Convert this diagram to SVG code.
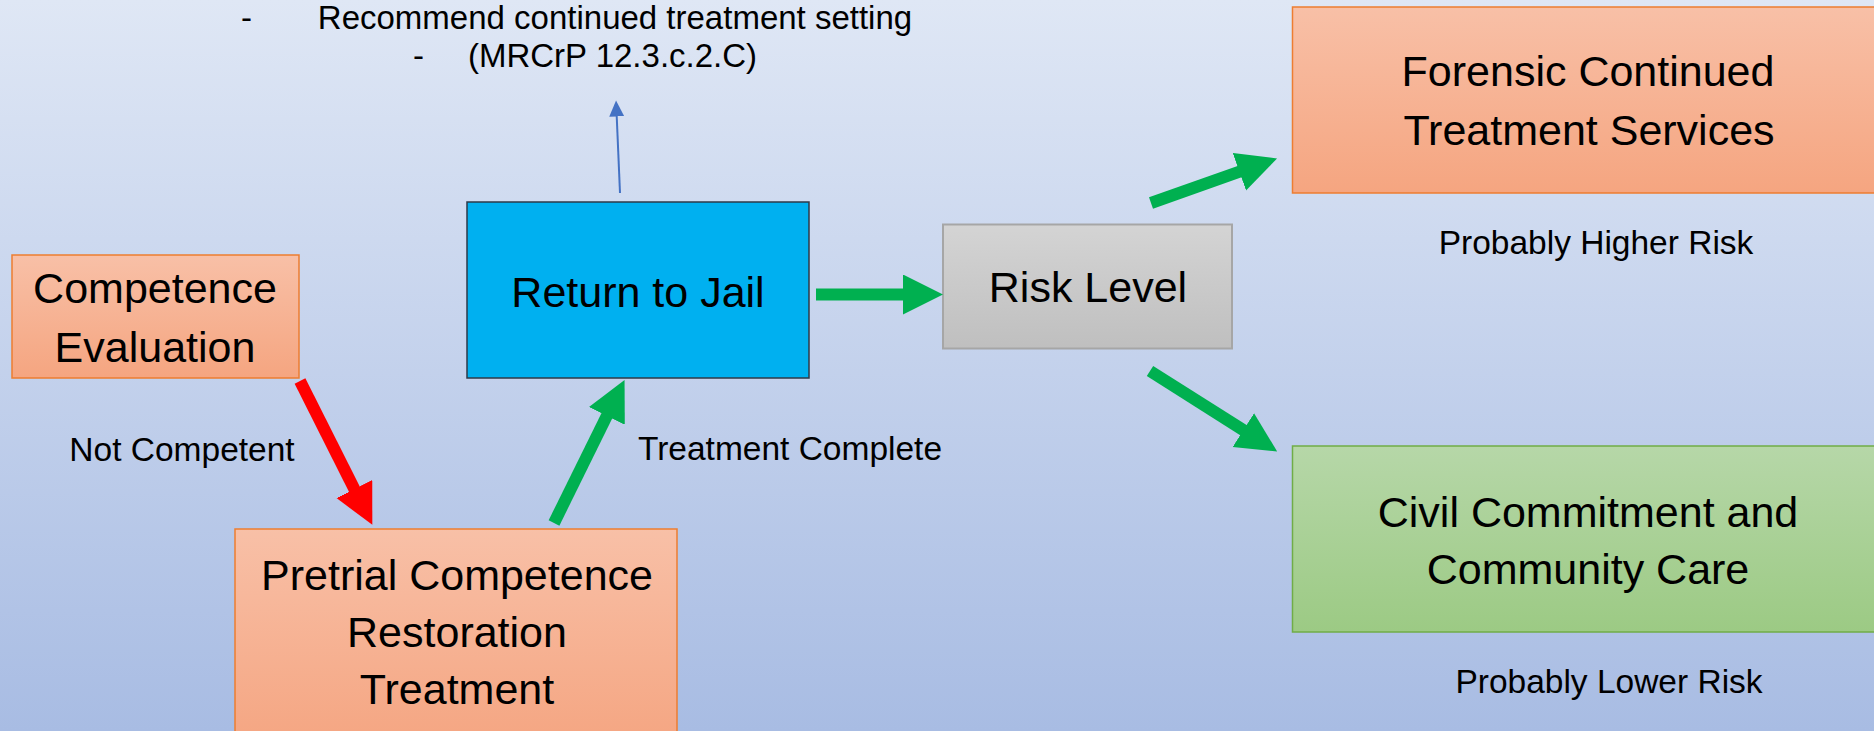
<svg xmlns="http://www.w3.org/2000/svg" width="1874" height="731" viewBox="0 0 1874 731">
  <defs>
    <linearGradient id="bg" x1="0" y1="0" x2="0" y2="1">
      <stop offset="0" stop-color="#dfe7f5"/>
      <stop offset="1" stop-color="#a8bce3"/>
    </linearGradient>
    <linearGradient id="orangeFill" x1="0" y1="0" x2="0" y2="1">
      <stop offset="0" stop-color="#f8c0a7"/>
      <stop offset="1" stop-color="#f5a580"/>
    </linearGradient>
    <linearGradient id="orangeFillTall" gradientUnits="userSpaceOnUse" x1="0" y1="529" x2="0" y2="731">
      <stop offset="0" stop-color="#f8c0a7"/>
      <stop offset="1" stop-color="#f5a784"/>
    </linearGradient>
    <linearGradient id="grayFill" x1="0" y1="0" x2="0" y2="1">
      <stop offset="0" stop-color="#d4d4d4"/>
      <stop offset="1" stop-color="#bfbfbf"/>
    </linearGradient>
    <linearGradient id="greenFill" x1="0" y1="0" x2="0" y2="1">
      <stop offset="0" stop-color="#b6d7a8"/>
      <stop offset="1" stop-color="#9cca84"/>
    </linearGradient>
    <marker id="headGreen" markerUnits="userSpaceOnUse" markerWidth="42" markerHeight="42" refX="1" refY="20" orient="auto">
      <path d="M0,0 L40,20 L0,40 z" fill="#00b050"/>
    </marker>
    <marker id="headRed" markerUnits="userSpaceOnUse" markerWidth="42" markerHeight="42" refX="1" refY="20" orient="auto">
      <path d="M0,0 L40,20 L0,40 z" fill="#ff0000"/>
    </marker>
    <marker id="headBlue" markerUnits="userSpaceOnUse" markerWidth="18" markerHeight="16" refX="0.5" refY="7.5" orient="auto">
      <path d="M0,0 L16,7.5 L0,15 z" fill="#4472c4"/>
    </marker>
  </defs>
  <style>
    text { font-family: "Liberation Sans", Arial, sans-serif; fill: #000; }
    .node { font-size: 43px; text-anchor: middle; }
    .label { font-size: 33.5px; text-anchor: middle; }
    .note { font-size: 33px; text-anchor: middle; }
    .orange { fill: url(#orangeFill); stroke: #ed7d31; stroke-width: 1.5; }
    .thick { fill: none; stroke-width: 12; stroke-linecap: butt; }
    .green { stroke: #00b050; marker-end: url(#headGreen); }
    .red { stroke: #ff0000; marker-end: url(#headRed); }
  </style>

  <rect x="0" y="0" width="1874" height="731" fill="url(#bg)"/>

  <!-- note above the jail box -->
  <g id="note">
    <text class="note" x="246.5" y="29">-</text>
    <text class="note" x="615" y="29">Recommend continued treatment setting</text>
    <text class="note" x="418.5" y="67">-</text>
    <text class="note" x="612.5" y="67">(MRCrP 12.3.c.2.C)</text>
  </g>

  <g id="competence-evaluation">
    <rect class="orange" x="12" y="255" width="287" height="123"/>
    <text class="node" x="155" y="303">Competence</text>
    <text class="node" x="155" y="362">Evaluation</text>
  </g>

  <g id="return-to-jail">
    <rect x="467" y="202" width="342" height="176" fill="#00b0f0" stroke="#2e3a48" stroke-width="1.5"/>
    <text class="node" x="638" y="307">Return to Jail</text>
  </g>

  <g id="risk-level">
    <rect x="943" y="224.5" width="289" height="124" fill="url(#grayFill)" stroke="#a6a6a6" stroke-width="2"/>
    <text class="node" x="1088" y="302">Risk Level</text>
  </g>

  <g id="forensic-treatment">
    <rect class="orange" x="1292.5" y="7" width="600" height="186"/>
    <text class="node" x="1588" y="86">Forensic Continued</text>
    <text class="node" x="1589" y="145">Treatment Services</text>
  </g>

  <g id="civil-commitment">
    <rect x="1292.5" y="446" width="600" height="186" fill="url(#greenFill)" stroke="#70ad47" stroke-width="1.5"/>
    <text class="node" x="1588" y="527">Civil Commitment and</text>
    <text class="node" x="1588" y="584">Community Care</text>
  </g>

  <g id="pretrial-restoration">
    <rect x="235" y="529" width="442" height="230" fill="url(#orangeFillTall)" stroke="#ed7d31" stroke-width="1.5"/>
    <text class="node" x="457" y="590">Pretrial Competence</text>
    <text class="node" x="457" y="647">Restoration</text>
    <text class="node" x="457" y="704">Treatment</text>
  </g>

  <g id="labels">
    <text class="label" x="182" y="461">Not Competent</text>
    <text class="label" x="790" y="460">Treatment Complete</text>
    <text class="label" x="1596" y="254">Probably Higher Risk</text>
    <text class="label" x="1609" y="693">Probably Lower Risk</text>
  </g>

  <g id="connectors">
    <line class="thick red" x1="300" y1="381" x2="354.8" y2="490"/>
    <line class="thick green" x1="554" y1="523" x2="607.3" y2="414.9"/>
    <line class="thick green" x1="816" y1="294.5" x2="904" y2="294.5"/>
    <line class="thick green" x1="1151" y1="203" x2="1240.3" y2="171.4"/>
    <line class="thick green" x1="1150" y1="371" x2="1244.2" y2="430.6"/>
    <line x1="620" y1="193" x2="616.7" y2="116" stroke="#4472c4" stroke-width="2" marker-end="url(#headBlue)"/>
  </g>
</svg>
